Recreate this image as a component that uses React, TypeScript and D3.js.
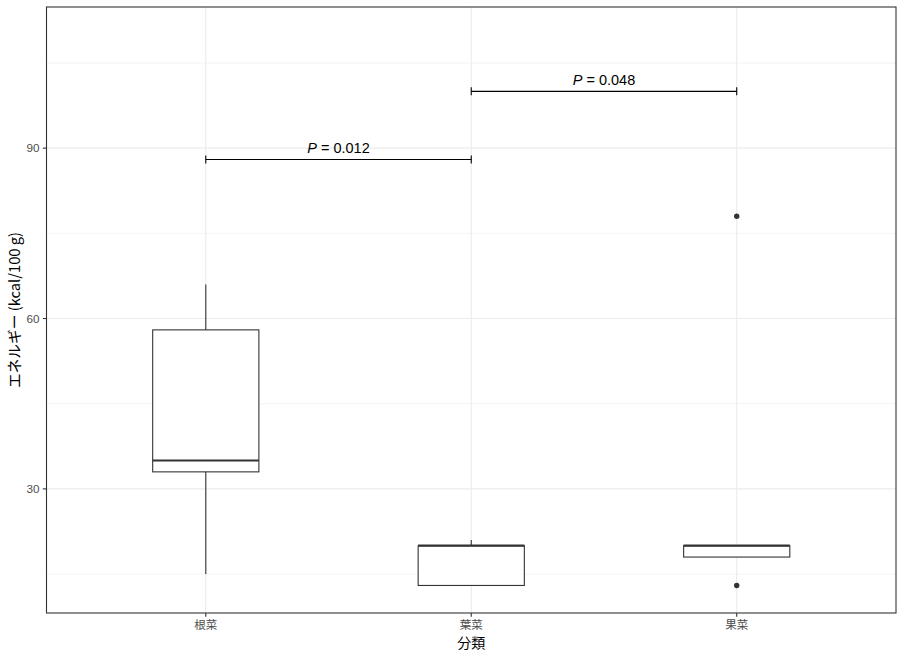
import { useEffect, useRef } from 'react';
import * as d3 from 'd3';

const categories = ['根菜', '葉菜', '果菜'];
const whiskerLow = [15, 13, 18];
const hingeLow = [33, 13, 18];
const medians = [35, 20, 20];
const hingeHigh = [58, 20, 20];
const whiskerHigh = [66, 21, 20];
const outliers: number[][] = [[], [], [78, 13]];

const comparisons: [string, string][] = [['根菜', '葉菜'], ['葉菜', '果菜']];
const comparisonY = [88, 100];
const pValues = ['0.012', '0.048'];

const yTicks = [30, 60, 90];
const yMinor = [15, 45, 75, 105];

const W = 904;
const H = 658;
const panel = { left: 46.5, right: 896, top: 7, bottom: 613 };
const sansFont = '"Liberation Sans", Arial, sans-serif';
const cjkFont = '"Noto Sans CJK JP", "Liberation Sans", sans-serif';

export default function App() {
  const svgRef = useRef<SVGSVGElement>(null);

  useEffect(() => {
    if (!svgRef.current) return;
    const svg = d3.select(svgRef.current);
    svg.selectAll('*').remove();

    const x = d3.scalePoint<string>()
      .domain(categories)
      .range([panel.left, panel.right])
      .padding(0.6);
    const step = x.step();

    // data range 13..110, expanded by 5% like ggplot
    const lo = 13, hi = 110;
    const pad = (hi - lo) * 0.05;
    const y = d3.scaleLinear()
      .domain([lo - pad, hi + pad])
      .range([panel.bottom, panel.top]);

    svg.append('rect').attr('width', W).attr('height', H).attr('fill', 'white');

    // grid
    const grid = svg.append('g');
    yMinor.forEach(v => {
      grid.append('line')
        .attr('x1', panel.left).attr('x2', panel.right)
        .attr('y1', y(v)).attr('y2', y(v))
        .attr('stroke', '#EBEBEB').attr('stroke-width', 0.6);
    });
    yTicks.forEach(v => {
      grid.append('line')
        .attr('x1', panel.left).attr('x2', panel.right)
        .attr('y1', y(v)).attr('y2', y(v))
        .attr('stroke', '#EBEBEB').attr('stroke-width', 1.1);
    });
    categories.forEach(c => {
      grid.append('line')
        .attr('x1', x(c)!).attr('x2', x(c)!)
        .attr('y1', panel.top).attr('y2', panel.bottom)
        .attr('stroke', '#EBEBEB').attr('stroke-width', 1.1);
    });

    // boxes
    const boxW = step * 0.4;
    const boxes = svg.append('g').attr('stroke', '#333333').attr('fill', 'white');
    categories.forEach((c, i) => {
      const cx = x(c)!;
      if (whiskerHigh[i] > hingeHigh[i]) {
        boxes.append('line')
          .attr('x1', cx).attr('x2', cx)
          .attr('y1', y(hingeHigh[i])).attr('y2', y(whiskerHigh[i]))
          .attr('stroke-width', 1.1);
      }
      if (whiskerLow[i] < hingeLow[i]) {
        boxes.append('line')
          .attr('x1', cx).attr('x2', cx)
          .attr('y1', y(hingeLow[i])).attr('y2', y(whiskerLow[i]))
          .attr('stroke-width', 1.1);
      }
      boxes.append('rect')
        .attr('x', cx - boxW / 2).attr('width', boxW)
        .attr('y', y(hingeHigh[i]))
        .attr('height', y(hingeLow[i]) - y(hingeHigh[i]))
        .attr('stroke-width', 1.1);
      boxes.append('line')
        .attr('x1', cx - boxW / 2).attr('x2', cx + boxW / 2)
        .attr('y1', y(medians[i])).attr('y2', y(medians[i]))
        .attr('stroke-width', 2.2);
      outliers[i].forEach(v => {
        boxes.append('circle')
          .attr('cx', cx).attr('cy', y(v)).attr('r', 2.7)
          .attr('fill', '#333333').attr('stroke', 'none');
      });
    });

    // significance brackets
    const sig = svg.append('g');
    comparisons.forEach(([a, b], i) => {
      const x1 = x(a)!, x2 = x(b)!;
      const yy = y(comparisonY[i]);
      sig.append('line')
        .attr('x1', x1).attr('x2', x2).attr('y1', yy).attr('y2', yy)
        .attr('stroke', 'black').attr('stroke-width', 1.1);
      [x1, x2].forEach(xx => {
        sig.append('line')
          .attr('x1', xx).attr('x2', xx).attr('y1', yy - 4).attr('y2', yy + 4)
          .attr('stroke', 'black').attr('stroke-width', 1.1);
      });
      const t = sig.append('text')
        .attr('x', (x1 + x2) / 2).attr('y', yy - 6)
        .attr('text-anchor', 'middle')
        .attr('font-family', sansFont).attr('font-size', 14.5)
        .attr('fill', 'black');
      t.append('tspan').attr('font-style', 'italic').text('P');
      t.append('tspan').text(` = ${pValues[i]}`);
    });

    // panel border
    svg.append('rect')
      .attr('x', panel.left).attr('y', panel.top)
      .attr('width', panel.right - panel.left).attr('height', panel.bottom - panel.top)
      .attr('fill', 'none').attr('stroke', '#333333').attr('stroke-width', 1.1);

    // y axis
    const yAxis = svg.append('g');
    yTicks.forEach(v => {
      yAxis.append('line')
        .attr('x1', panel.left - 3.7).attr('x2', panel.left)
        .attr('y1', y(v)).attr('y2', y(v))
        .attr('stroke', '#333333').attr('stroke-width', 1.1);
      yAxis.append('text')
        .attr('x', panel.left - 7).attr('y', y(v))
        .attr('dy', '0.35em')
        .attr('text-anchor', 'end')
        .attr('font-family', sansFont).attr('font-size', 11.7)
        .attr('fill', '#4D4D4D')
        .text(v);
    });

    // x axis
    const xAxis = svg.append('g');
    categories.forEach(c => {
      xAxis.append('line')
        .attr('x1', x(c)!).attr('x2', x(c)!)
        .attr('y1', panel.bottom).attr('y2', panel.bottom + 3.7)
        .attr('stroke', '#333333').attr('stroke-width', 1.1);
      xAxis.append('text')
        .attr('x', x(c)!).attr('y', panel.bottom + 16)
        .attr('text-anchor', 'middle')
        .attr('font-family', cjkFont).attr('font-size', 11.5)
        .attr('fill', '#4D4D4D')
        .text(c);
    });

    svg.append('text')
      .attr('x', (panel.left + panel.right) / 2).attr('y', 647.5)
      .attr('text-anchor', 'middle')
      .attr('font-family', cjkFont).attr('font-size', 14)
      .attr('fill', 'black')
      .text('分類');

    svg.append('text')
      .attr('transform', `translate(20,${(panel.top + panel.bottom) / 2}) rotate(-90)`)
      .attr('text-anchor', 'middle')
      .attr('font-family', cjkFont).attr('font-size', 14.7)
      .attr('fill', 'black')
      .text('エネルギー (kcal/100 g)');
  }, []);

  return (
    <svg
      ref={svgRef}
      width={W}
      height={H}
      style={{ position: 'absolute', left: 0, top: 0, display: 'block' }}
    />
  );
}
